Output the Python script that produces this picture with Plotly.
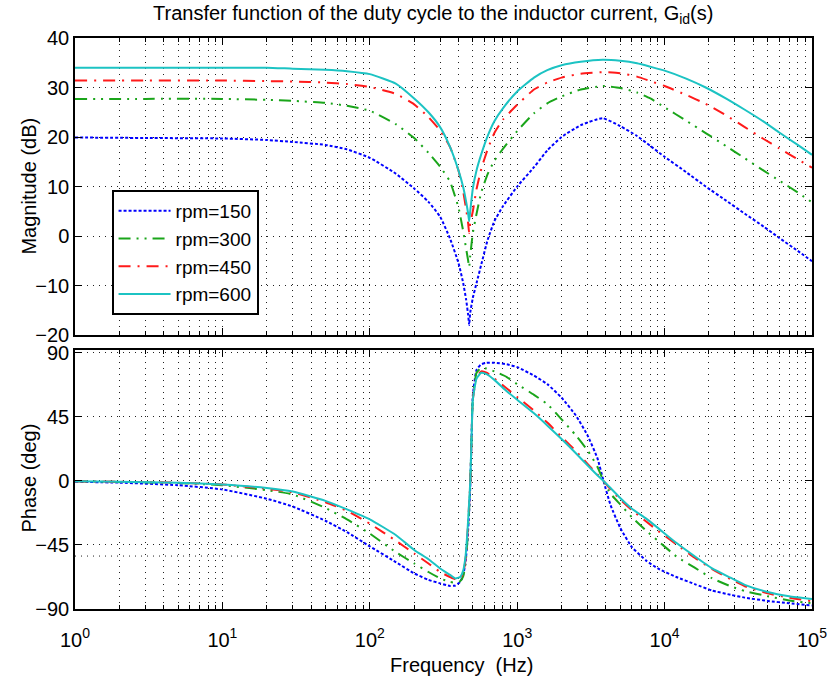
import plotly.graph_objects as go

# ---------------- data ----------------
series_names = ["rpm=150", "rpm=300", "rpm=450", "rpm=600"]

freq_mag = [1, 3, 10, 20, 30, 50, 70, 100, 150, 200, 250, 300, 350, 400, 430, 450,
            465, 472, 480, 500, 530, 570, 630, 700, 800, 1000, 1300, 1600, 2000,
            2700, 3800, 5000, 6500, 8000, 10000, 14000, 19000, 26000, 35000, 47000,
            60000, 80000, 100000]

mag_150 = [19.9, 19.8, 19.7, 19.4, 19.0, 18.4, 17.5, 15.8, 12.6, 9.6, 6.9, 3.9, -0.5,
           -5.5, -9.5, -12.8, -16.0, -18.0, -15.5, -12.5, -9.5, -5.8, -0.8, 3.0,
           6.0, 10.0, 13.9, 17.3, 20.0, 22.4, 23.8, 22.2, 20.2, 18.2, 16.0, 12.9, 10.0,
           7.2, 4.5, 1.9, -0.4, -3.0, -5.1]
mag_300 = [27.7, 27.7, 27.7, 27.5, 27.3, 26.9, 26.3, 25.3, 22.6, 19.8, 16.8, 14.0,
           11.0, 5.7, 1.0, -2.5, -5.0, -6.3, -4.0, 0.6, 4.5, 8.8, 12.5, 15.2, 17.6,
           21.2, 24.8, 26.8, 28.2, 29.6, 30.3, 29.9, 29.0, 27.8, 26.0, 23.3, 20.8,
           18.2, 15.7, 13.2, 11.2, 8.8, 6.8]
mag_450 = [31.4, 31.4, 31.4, 31.3, 31.2, 31.0, 30.7, 30.1, 28.7, 26.6, 24.0, 21.3,
           18.0, 13.2, 9.0, 5.5, 2.5, 0.6, 2.5, 5.0, 9.5, 13.5, 17.5, 20.8, 23.5,
           26.5, 29.6, 31.0, 32.0, 32.8, 33.1, 32.9, 32.2, 31.3, 30.3, 28.5, 26.7,
           24.4, 22.0, 19.6, 17.7, 15.5, 13.8]
mag_600 = [34.0, 34.0, 34.0, 34.0, 33.8, 33.6, 33.3, 32.7, 30.8, 27.8, 25.0, 22.0,
           18.0, 13.2, 9.9, 7.0, 4.5, 3.0, 5.0, 9.6, 13.3, 16.5, 20.2, 23.2, 25.8,
           29.2, 32.0, 33.5, 34.5, 35.2, 35.6, 35.4, 34.9, 34.2, 33.4, 31.8, 30.0,
           27.8, 25.5, 23.1, 20.9, 18.4, 16.4]

freq_ph = [1, 2, 5, 10, 20, 30, 50, 70, 100, 150, 200, 250, 300, 350, 380, 410, 430,
           445, 460, 472, 480, 490, 500, 530, 570, 620, 700, 850, 1000, 1300, 1600,
           2000, 2500, 3000, 3500, 3850, 4300, 5000, 6000, 7500, 9000, 12000, 16000,
           21000, 28000, 35000, 50000, 70000, 100000]

ph_150 = [-0.6, -1.2, -3, -6, -12.5, -18, -28, -36, -46, -57, -65, -69.5, -72, -73.8,
          -73.5, -71, -66, -58, -42, -22, -5, 30, 60, 78, 82, 83, 83, 82, 80, 74,
          68, 58.5, 46, 32, 16, 0, -17, -33, -46.5, -56, -61.5, -67.5, -72.5, -77,
          -80, -82, -84.3, -86, -87.5]
ph_300 = [-0.3, -0.7, -1.5, -3, -6.5, -9.5, -19, -27, -37, -50, -58, -64, -68.5, -71,
          -71.5, -70.5, -67, -59, -41, -20, -3, 30, 58, 76, 79.5, 79, 77, 73, 68, 60.5,
          54, 43.3, 32, 21.5, 10, 0, -9, -16.5, -25.5, -35, -42, -53, -61, -68.4, -74,
          -77.4, -81, -84, -86]
ph_450 = [-0.3, -0.6, -1.2, -2.5, -5.5, -8, -15, -21, -30, -42, -51, -58, -64, -67.5,
          -69, -68.5, -65, -56, -37, -16, -2, 30, 57, 73, 77, 76, 72, 65, 59, 49.5, 41,
          31, 21, 12, 4.5, 0, -6, -13, -20.5, -28.5, -35, -44.5, -54, -62, -69, -74, -79,
          -82, -84.5]
ph_600 = [-0.3, -0.6, -1.2, -2.5, -5, -7.5, -14, -20, -27, -38, -48.5, -55, -61.5, -66,
          -68.5, -67.5, -63, -54, -35, -15, -1, 30, 57, 72, 76, 75, 71, 63, 57, 47.5, 39,
          29.5, 19.5, 11, 4, 0, -5, -12, -19.5, -26.5, -33, -43.5, -53, -61.5, -68, -73, -78,
          -81, -83]

x_tickvals = [1, 10, 100, 1000, 10000, 100000]
x_ticktext = ["10<sup>0</sup>", "10<sup>1</sup>", "10<sup>2</sup>",
              "10<sup>3</sup>", "10<sup>4</sup>", "10<sup>5</sup>"]
x_minor = [m * 10 ** k for k in range(5) for m in range(2, 10)]
mag_ticks = [-20, -10, 0, 10, 20, 30, 40]
ph_ticks = [-90, -45, 0, 45, 90]
ph_extra_grid = -52.8   # stray dotted grid line visible in the reference

# ---------------- styling ----------------
colors = ["#0000ff", "#1aa51a", "#ff1a1a", "#1cc3c3"]
dashes = ["3px,2px", "12px,6px,2px,6px,2px,6px", "12px,7px,2px,7px", "solid"]
FONT = "Liberation Sans, Arial, sans-serif"

fig = go.Figure()
mags = [mag_150, mag_300, mag_450, mag_600]
phs = [ph_150, ph_300, ph_450, ph_600]
for name, m, c, d in zip(series_names, mags, colors, dashes):
    fig.add_trace(go.Scatter(x=freq_mag, y=m, name=name, mode="lines",
                             line=dict(color=c, width=2, dash=d, shape="spline", smoothing=0.45),
                             xaxis="x", yaxis="y"))
for name, p, c, d in zip(series_names, phs, colors, dashes):
    fig.add_trace(go.Scatter(x=freq_ph, y=p, name=name, mode="lines", showlegend=False,
                             line=dict(color=c, width=2, dash=d, shape="spline", smoothing=0.45),
                             xaxis="x2", yaxis="y2"))

GRID_DASH = "1px,5px"
GRID_COLOR = "#222222"
grid = dict(showgrid=True, gridcolor=GRID_COLOR, griddash=GRID_DASH, gridwidth=1)
common_x = dict(type="log", range=[0, 5], showline=True, linecolor="black", linewidth=1.5,
                mirror="allticks", ticks="inside", ticklen=7, tickcolor="black",
                tickvals=x_tickvals, ticktext=x_ticktext, zeroline=False,
                minor=dict(tickmode="array", tickvals=x_minor, ticks="inside", ticklen=4,
                           tickcolor="black", showgrid=True, gridcolor=GRID_COLOR,
                           griddash=GRID_DASH, gridwidth=1),
                **grid)
common_y = dict(showline=True, linecolor="black", linewidth=1.5, mirror="allticks",
                ticks="inside", ticklen=7, tickcolor="black", zeroline=False, **grid)

H = 684
top_px, bot_px = 38, 609
plot_h = bot_px - top_px

fig.add_shape(type="line", xref="x2 domain", yref="y2", x0=0, x1=1,
              y0=ph_extra_grid, y1=ph_extra_grid, layer="below",
              line=dict(color=GRID_COLOR, width=1, dash=GRID_DASH))

fig.update_layout(
    width=839, height=684,
    margin=dict(l=75, r=18, t=top_px, b=H - bot_px),
    paper_bgcolor="white", plot_bgcolor="white",
    font=dict(family=FONT, size=20, color="black"),
    showlegend=True,
    xaxis=dict(domain=[0, 1], anchor="y", showticklabels=False, **common_x),
    yaxis=dict(domain=[(bot_px - 335) / plot_h, 1], anchor="x", range=[-20, 40],
               tickvals=mag_ticks, **common_y),
    xaxis2=dict(domain=[0, 1], anchor="y2", showticklabels=True, ticklabelstandoff=12,
                **common_x),
    yaxis2=dict(domain=[0, (bot_px - 350) / plot_h], anchor="x2", range=[-90, 92],
                tickvals=ph_ticks, **common_y),
    legend=dict(x=(112 - 75) / 746, y=(bot_px - 190) / plot_h, xanchor="left", yanchor="top",
                bordercolor="black", borderwidth=2, bgcolor="white",
                font=dict(size=19), itemwidth=52, tracegroupgap=0),
    annotations=[
        dict(text="Transfer function of the duty cycle to the inductor current, G<sub>id</sub>(s)",
             xref="paper", yref="paper", x=(437.5 - 75) / 746, y=(bot_px - 15) / plot_h,
             xanchor="center", yanchor="middle", showarrow=False, font=dict(size=20)),
        dict(text="Magnitude (dB)", xref="paper", yref="paper", x=(28 - 75) / 746,
             y=(bot_px - 186) / plot_h, xanchor="center", yanchor="middle",
             textangle=-90, showarrow=False, font=dict(size=20)),
        dict(text="Phase (deg)", xref="paper", yref="paper", x=(28 - 75) / 746,
             y=(bot_px - 478) / plot_h, xanchor="center", yanchor="middle",
             textangle=-90, showarrow=False, font=dict(size=20)),
        dict(text="Frequency\u00a0\u00a0(Hz)", xref="paper", yref="paper", x=(466 - 75) / 746,
             y=(bot_px - 665) / plot_h, xanchor="center", yanchor="middle",
             showarrow=False, font=dict(size=20)),
    ],
)

fig.write_html("out.html")
